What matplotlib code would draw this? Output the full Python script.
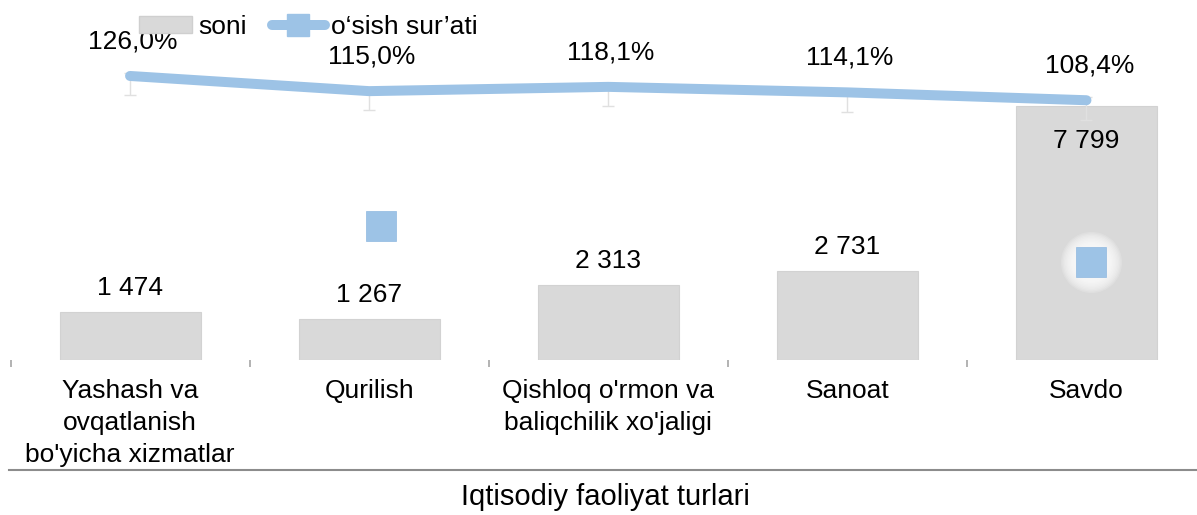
import matplotlib
matplotlib.use('Agg')
import matplotlib.pyplot as plt
import numpy as np
from matplotlib.lines import Line2D
from matplotlib.patches import Patch
import matplotlib.transforms as mtransforms

# ---- data ----
categories = ["Yashash va\novqatlanish\nbo'yicha xizmatlar", "Qurilish",
              "Qishloq o'rmon va\nbaliqchilik xo'jaligi", "Sanoat", "Savdo"]
soni = [1474, 1267, 2313, 2731, 7799]
osish = [126.0, 115.0, 118.1, 114.1, 108.4]
soni_labels = ["1 474", "1 267", "2 313", "2 731", "7 799"]
osish_labels = ["126,0%", "115,0%", "118,1%", "114,1%", "108,4%"]
legend_labels = ["soni", "o‘sish sur’ati"]
xlabel = "Iqtisodiy faoliyat turlari"

# ---- style ----
plt.rcParams['font.family'] = ['Liberation Sans', 'DejaVu Sans']
BAR = '#d9d9d9'
LINE = '#9dc3e6'
FS = 19
W, H = 1197, 515

fig = plt.figure(figsize=(W / 100, H / 100), dpi=100)
ax = fig.add_axes([10.5 / W, 155 / H, 1195.5 / W, 360 / H])
x = np.arange(len(categories))
ax.bar(x, soni, width=0.59, color=BAR, edgecolor='#d2d2d2', linewidth=0.8, zorder=2)
ax.set_xlim(-0.5, len(categories) - 0.5)
ax.set_ylim(0, 11054)

for s in ax.spines.values():
    s.set_visible(False)
ax.set_yticks([])
ax.set_xticks(x)
ax.set_xticklabels(categories, fontsize=FS, linespacing=1.42)
ax.tick_params(axis='x', which='major', length=0, pad=14)
ax.set_xticks(np.arange(-0.5, len(categories), 1), minor=True)
ax.tick_params(axis='x', which='minor', length=5, width=1.2, color='#a6a6a6')

ymax = ax.get_ylim()[1]
for xi, v, lbl in zip(x, soni, soni_labels):
    inside = v > 0.6 * ymax
    ax.annotate(lbl, (xi, v), xytext=(0, -25 if inside else 17),
                textcoords='offset points', ha='center', va='center',
                fontsize=FS, color='black', zorder=5)

# secondary axis for growth rate
ax2 = ax.twinx()
ax2.set_ylim(-80.0, 181.1)
for s in ax2.spines.values():
    s.set_visible(False)
ax2.set_yticks([])
ax2.errorbar(x, osish, yerr=[[14] * len(x), [2] * len(x)], fmt='none',
             ecolor='#e0e0e0', elinewidth=1, capsize=4, zorder=2)
ax2.plot(x, osish, color=LINE, lw=7.2, solid_capstyle='round',
         solid_joinstyle='round', zorder=3)
for xi, v, lbl in zip(x, osish, osish_labels):
    ax2.annotate(lbl, (xi, v), xytext=(2, 25), textcoords='offset points',
                 ha='center', va='center', fontsize=FS, color='black')

# stray marker squares seen in the original rendering (decoration)
trans = mtransforms.blended_transform_factory(ax2.transData, ax2.transAxes)
stray = [(1.05, 0.372), (4.017, 0.272)]
for sx, sy in stray:
    for ms in range(44, 24, -2):
        ax2.plot([sx], [sy], marker='o', ms=ms, color='white', alpha=0.16,
                 mec='none', transform=trans, zorder=4)
    ax2.plot([sx], [sy], marker='s', ms=21.6, color=LINE, mec='#8fb8e0',
             mew=0.5, transform=trans, zorder=5)

# bottom separator line and axis title
fig.add_artist(Line2D([9 / W, 1], [1 - 470 / H] * 2, color='#8c8c8c', lw=1.5))
fig.text(605 / W, 1 - 497 / H, xlabel, ha='center', va='center', fontsize=21)

# legend
handles = [Patch(facecolor=BAR, edgecolor='#cfcfcf'),
           Line2D([], [], color=LINE, lw=7.2, marker='s', markersize=16,
                  solid_capstyle='round')]
fig.legend(handles, legend_labels, loc='upper left',
           bbox_to_anchor=(139 / W, 1 - 15 / H), ncol=2, frameon=False,
           fontsize=FS, handlelength=2.0, handletextpad=0.25,
           columnspacing=0.95, borderpad=0, borderaxespad=0, handleheight=0.6)

fig.savefig('out.png', dpi=100)
